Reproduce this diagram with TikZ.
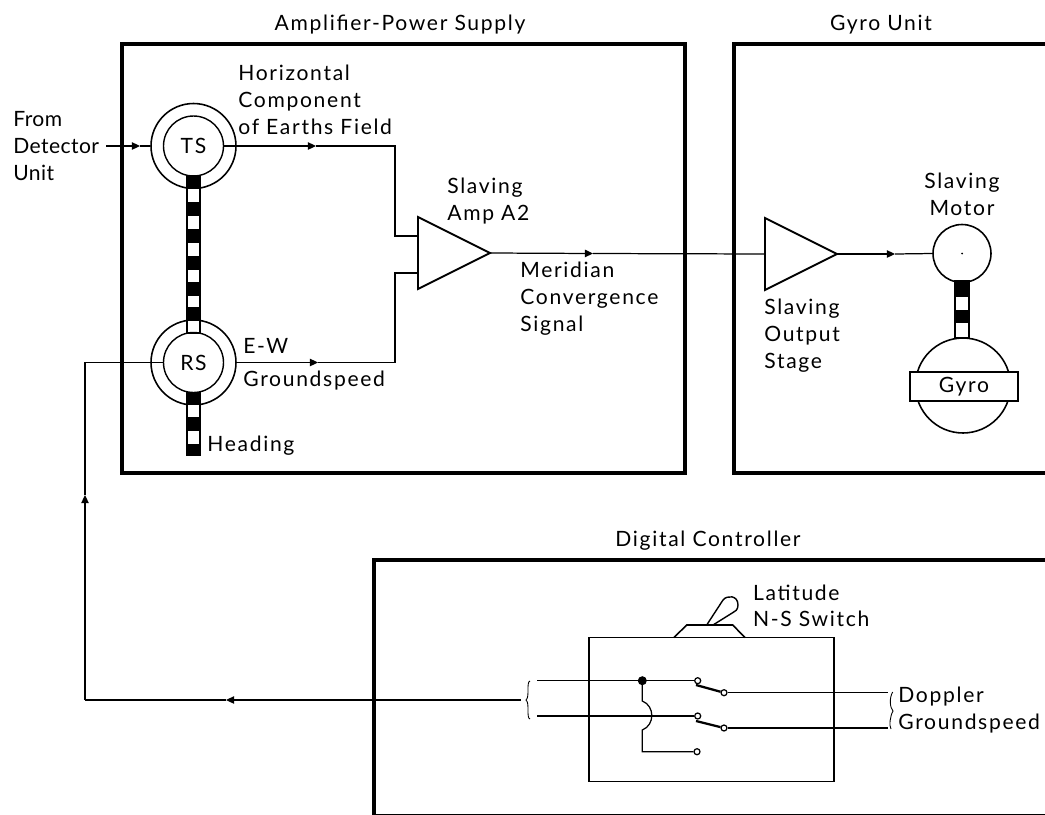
\documentclass[tikz,border=0pt]{standalone}
\usepackage{fontspec}
\setmainfont[LetterSpace=8]{Lato}
\usetikzlibrary{arrows.meta,positioning,shapes.geometric}

\begin{document}
\begin{tikzpicture}[
  x=0.02cm, y=-0.02cm,
  >={Triangle[length=4.6pt,width=4.2pt]},
  font=\fontsize{12}{15.1}\selectfont,
  frame/.style={line width=2.3pt},
  wire/.style={line width=0.7pt},
  arr/.style={->, line width=0.7pt},
  ring/.style={draw, circle, line width=0.9pt, inner sep=0pt, minimum size=1.7cm},
  rotor/.style={draw, circle, line width=0.8pt, inner sep=0pt, minimum size=1.2cm},
  amp/.style={draw, isosceles triangle, isosceles triangle apex angle=53.13, outer sep=0pt,
              line width=1.1pt, inner sep=0pt, minimum width=1.44cm, minimum height=1.44cm},
  contact/.style={draw, circle, fill=white, line width=0.7pt, inner sep=0pt, minimum size=0.12cm},
  txt/.style={anchor=base west, inner sep=0pt, align=left},
  title/.style={anchor=base, inner sep=0pt},
]
  \useasboundingbox (0,0) rectangle (1045,815);

  %% Unit frames
  \draw[frame] (122,44) rectangle (685,473);
  \draw[frame] (1046,44) -- (734,44) -- (734,473) -- (1046,473);
  \draw[frame] (1046,560) -- (374,560) -- (374,816) -- (1046,816);
  \node[title] (ampsupply) at (400,30) {Amplifier-Power Supply};
  \node[title] (gyrounit) at (881,30) {Gyro Unit};
  \node[title] (digital) at (708,546) {Digital Controller};

  %% Synchros on the heading shaft
  \node[ring] (tsring) at (193.5,146) {};
  \node[ring] (rsring) at (193.5,362.5) {};
  \draw[line width=0.8pt, fill=white] (187,176) rectangle (200,333);
  \draw[line width=0.8pt, fill=white] (187,393) rectangle (200,455);
  \foreach \ya/\yb in {176/189,202/216,229/243,256/270,282/296,307/321,393/405,417/431,444/455}
    \fill (187,\ya) rectangle (200,\yb);
  \node[rotor] (ts) at (193.5,146) {TS};
  \node[rotor] (rs) at (193.5,362.5) {RS};

  %% Amplifiers
  \node[amp, anchor=apex] (a2) at (490,253) {};
  \node[amp, anchor=apex] (stage) at (837,254) {};

  %% Motor and gyro
  \node[draw, circle, line width=0.9pt, inner sep=0pt, minimum size=1.16cm] (motor) at (962,253.5) {};
  \fill (motor.center) circle (1);
  \draw[line width=0.8pt, fill=white] (955,281) rectangle (969,338);
  \foreach \ya/\yb in {282/297,310/323}
    \fill (955,\ya) rectangle (969,\yb);
  \node[draw, circle, line width=0.9pt, inner sep=0pt, minimum size=1.9cm] (rotorball) at (963,385.5) {};
  \node[draw, fill=white, line width=1.1pt, inner sep=0pt, minimum width=2.16cm, minimum height=0.58cm] (gyro) at (964,386.5) {Gyro};

  %% Switch
  \draw[line width=1pt] (589,637.5) rectangle (834,781.5);
  \draw[line width=0.9pt] (674,637.5) -- (686.7,625) -- (732.7,625) -- (745,637.5);
  \draw[line width=0.8pt] (706.7,625) -- (723,600) .. controls (727,595) and (738,595) .. (738,605)
    .. controls (738,610) and (735,611.5) .. (733,612.5) -- (713,625);
  \node[contact] (c1) at (697.7,680.7) {};
  \node[contact] (c2) at (697.7,716) {};
  \node[contact] (c3) at (697,751.7) {};
  \node[contact] (d1) at (724,692.7) {};
  \node[contact] (d2) at (724,728) {};
  \fill (642.3,680.7) circle (4.5);
  \coordinate (dot) at (642.3,680.7);
  \coordinate (hump) at (642.3,701);
  \coordinate (humpend) at (642.3,730);
  \coordinate (lowcorner) at (642.3,751.7);
  \coordinate (topin) at (537,680.7);
  \coordinate (lowin) at (537,716);
  \coordinate (topout) at (888,692.7);
  \coordinate (lowout) at (888,728);

  %% Wires - TS and RS to amplifier
  \coordinate (detector) at (106,146);
  \coordinate (detectormid) at (140,146);
  \coordinate (tsmid) at (316,146);
  \coordinate (tscorner) at (395,146);
  \coordinate (tsin) at (418,236);
  \coordinate (rsmid) at (318,362.5);
  \coordinate (rscorner) at (395,362.5);
  \coordinate (rsin) at (418,273);
  \draw[arr] (detector) -- (detectormid);
  \draw[wire] (detectormid) -- (tsring.west);
  \draw[arr] (ts.east) -- (tsmid);
  \draw[wire] (tsmid) -- (tscorner) |- (tsin);
  \draw[arr] (rsring.east) -- (rsmid);
  \draw[wire] (rsmid) -- (rscorner) |- (rsin);

  %% Wires - amplifier to motor
  \coordinate (a2mid) at (593,253.5);
  \coordinate (stagemid) at (895,254);
  \draw[arr] (a2.apex) -- (a2mid);
  \draw[wire] (a2mid) -- (stage.west);
  \draw[arr] (stage.apex) -- (stagemid);
  \draw[wire] (stagemid) -- (motor.west);

  %% Wires - groundspeed return
  \coordinate (retcorner) at (85,700);
  \coordinate (retup) at (85,495);
  \coordinate (retleft) at (226,700);
  \coordinate (retend) at (520.7,700);
  \draw[arr] (retend) -- (retleft);
  \draw[wire] (retleft) -- (retcorner);
  \draw[arr] (retcorner) -- (retup);
  \draw[wire] (retup) |- (rs.west);

  %% Wires - inside switch
  \draw[wire] (topin) -- (c1);
  \draw[wire] (lowin) -- (c2);
  \draw[wire] (dot) -- (hump) .. controls (655,706) and (655,725) .. (humpend) -- (lowcorner) -- (c3);
  \draw[line width=1.3pt] (696,685) -- (d1);
  \draw[line width=1.3pt] (696,721) -- (d2);
  \draw[wire] (d1) -- (topout);
  \draw[wire] (d2) -- (lowout);

  %% Braces
  \draw[line width=0.5pt] (530,681) .. controls (526,682) and (530,697) .. (526,700)
    .. controls (530,703) and (526,718) .. (530,719);
  \draw[line width=0.5pt] (892.7,692) .. controls (889,698) and (890,708) .. (893,711)
    .. controls (890,716) and (889,726) .. (891,729);

  %% Labels
  \node[txt, font=\fontsize{12}{15.1}\selectfont\addfontfeature{LetterSpace=2}] (from) at (13,180) {From\\Detector\\Unit};
  \node[txt] (hcomp) at (238,134) {Horizontal\\Component\\of Earths Field};
  \node[txt] (ew) at (243,353) {E-W};
  \node[txt] (gs) at (243,386.7) {Groundspeed};
  \node[txt] (heading) at (207,451.7) {Heading};
  \node[txt] (slamp) at (447,220) {Slaving\\Amp A2};
  \node[txt] (merid) at (520,331) {Meridian\\Convergence\\Signal};
  \node[txt] (slout) at (764,368) {Slaving\\Output\\Stage};
  \node[txt, align=center, anchor=base] (slmot) at (962,215) {Slaving\\Motor};
  \node[txt] (lat) at (752.7,626.7) {Latitude\\N-S Switch};
  \node[txt] (dop) at (898,729.3) {Doppler\\Groundspeed};
\end{tikzpicture}
\end{document}
